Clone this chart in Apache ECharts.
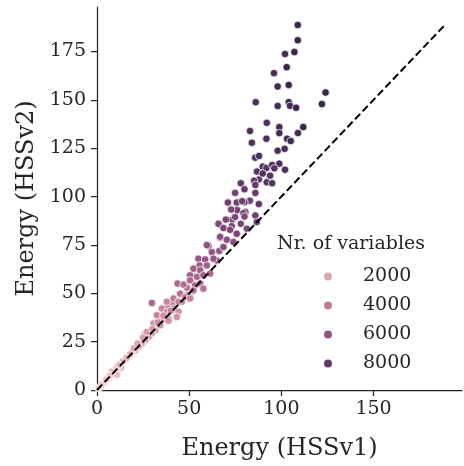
<!DOCTYPE html>
<html><head><meta charset="utf-8">
<script src="https://cdn.jsdelivr.net/npm/echarts@6/dist/echarts.min.js"></script>
<style>html,body{margin:0;padding:0;background:#fff}#c{width:464px;height:466px}</style>
</head><body><div id="c"></div>
<script>
// ---- data: [Energy HSSv1, Energy HSSv2, Nr. of variables] ----
const xTicks = [0, 50, 100, 150];
const yTicks = [0, 25, 50, 75, 100, 125, 150, 175];
const legendValues = [2000, 4000, 6000, 8000];
const diagonal = [[0, 0], [189, 189]];

const pointsHigh = [
  [108.9,188.7,9400],[108.9,180.8,9400],[107.1,174.7,9400],[102,173.7,9000],[102.9,166.9,9400],
  [96,163.8,9000],[98,156.9,9000],[104,157.7,9400],[124,153.8,9400],[86.1,148.8,8700],
  [98,146.8,9000],[104,148.8,9400],[104.7,146.9,9000],[108,145.9,9400],[122,147.8,9400],
  [92.1,138.1,8700],[98.9,135.9,9000],[111.9,135.9,9400],[83,133.9,8700],[98.9,132.8,9000],
  [109,132.8,9000],[91.9,129.9,8700],[103.1,129.9,9000],[105.1,128.7,9000],[84,127.8,8700],
  [98,123.7,8700],[101.8,124.7,8700],[85.8,120.1,8400],[87.9,121,8700]
];
const pointsUpperMid = [
  [89.9,115.5,8400],[91.9,114.8,8400],[95,116.3,8700],[98.9,117,8700],[96.2,114.6,8400],
  [102,113.9,8700],[86.8,112.9,8400],[89.9,111.9,8400],[93.9,110.8,8400],[87.8,108.8,8000],
  [85.2,108.2,8000],[92.1,107.4,8400],[95,106.9,8400],[85.9,106,8000],[78,106.9,8000],
  [80,103.8,8000],[74.9,101.9,7500],[85.9,101.9,8000],[82.9,97.9,7500],[87.8,96.1,8000],
  [75.8,96.9,7500],[80,97.1,7500],[76,93,7500],[80.5,92,7500],[85.9,90.2,7500],
  [78,85.9,7000],[73.3,88,7000],[71,96.9,7500],[78.7,97.6,7500],[72.8,93.3,7000],
  [79.4,91.4,7500],[74.9,89.4,7000],[80,89.7,7000],[65.9,85.9,7000],[69.9,88.1,7000],
  [73.1,84.7,7000],[68.6,83.7,7000],[81.3,83.4,7000],[86.7,86.8,7500]
];
const pointsMid = [
  [72.2,82.8,7000],[75.8,80.8,7000],[66.8,78.7,6500],[70.4,77.7,6500],[74,76.5,6500],
  [60.5,74.4,6500],[62.3,71.3,6000],[66.3,71.9,6000],[68.6,73.9,6500],[59.6,74.9,6500],
  [66.8,79.2,6500],[65,67,6000],[55,67.9,6000],[58.7,67.5,6000],[63.2,67.9,6000],
  [55.6,64.4,5500],[59.6,64.4,5500],[52.3,62.7,5500],[56,61.9,5500],[50.5,59.3,5500],
  [54.2,58.5,5000],[57.7,59.3,5500],[61.4,60.2,5000],[50.5,56.7,5000],[53.2,54.1,5000],
  [48.8,52.9,4500],[52.3,51.5,4500],[56,55,5000],[57.7,52.4,4500],[43.7,55,5000],
  [46.9,54.5,4500],[45.1,49.8,4500],[48.8,49,4000],[42.4,46.4,4000],[46,45.6,4000],
  [50.5,48.1,4000],[29.8,45,5000],[37.9,43.8,4000],[41.5,44.7,4000]
];
const pointsLow = [
  [37.9,45.6,3500],[41.5,47.3,4000],[44.2,45.6,3500],[47.8,48.1,3500],[50.5,47.3,3500],
  [35.2,42.1,3500],[37.9,40.4,3500],[41.5,42.1,3500],[44.2,40.4,3000],[43.3,37.8,3000],
  [32.5,38.7,3500],[35.2,36.1,3000],[38.8,37,3000],[38.8,35.8,3000],[30.7,34.4,3000],
  [34.3,33.5,3000],[31.6,30.9,2500],[29.8,29.2,2500],[28,27.5,2500],[26.2,29.2,3000],
  [26.2,25.8,2500],[24.4,24.1,2000],[22.5,22.4,2000],[20.7,20.6,2000],[19,19.8,1500],
  [17.1,17.2,1500],[15.3,15.5,1500],[12.6,12.9,1000],[10.8,11.2,1000],[9,8.6,1000],
  [6.3,6,500],[3.6,3.5,500],[0.9,0.9,100],[10.8,7.9,1000],[27,30,2500],
  [25,27,2500],[20,21.5,2000],[18,18.5,1500],[14,14.8,1500],[13,11.5,1000],
  [11,12,1000],[8,9.5,1000],[5,5.5,500],[2.5,2.8,500],[30,31.5,2500],
  [33,35,3000],[36,38.5,3000],[40,41,3500],[22,24,2000],[16,16.5,1500],
  [12,13,1000],[7,7.5,500]
];
const hueMin = 100, hueMax = 10000;

// seaborn default cubehelix colormap (light -> dark)
function cubehelix(t) {
  const light = 0.85, dark = 0.15;
  const x = light + (dark - light) * t;
  const a = 0.8 * x * (1 - x) / 2;
  const phi = 2 * Math.PI * (0.4 * x);
  const f = (p0, p1) => Math.max(0, Math.min(1, x + a * (p0 * Math.cos(phi) + p1 * Math.sin(phi))));
  const r = f(-0.14861, 1.78277), g = f(-0.29227, -0.90649), b = f(1.97294, 0);
  return 'rgb(' + Math.round(r * 255) + ',' + Math.round(g * 255) + ',' + Math.round(b * 255) + ')';
}
const stops = [];
for (let i = 0; i <= 20; i++) stops.push(cubehelix(i / 20));
const hueColor = v => cubehelix((v - hueMin) / (hueMax - hueMin));

const FONT = 'DejaVu Serif';
const INK = '#262626';
const allPoints = pointsHigh.concat(pointsUpperMid, pointsMid, pointsLow);

const series = [{
  type: 'scatter', name: 'points', data: allPoints,
  symbolSize: 7.5,
  itemStyle: { borderColor: '#ffffff', borderWidth: 0.7, opacity: 1 },
  emphasis: { disabled: true }, z: 2
}];
legendValues.forEach(v => series.push({
  type: 'scatter', name: String(v), data: [],
  itemStyle: { color: hueColor(v), opacity: 1 }
}));
series.push({
  type: 'line', name: 'diag', data: diagonal, symbol: 'none',
  lineStyle: { color: '#000', width: 2, type: [7.5, 3.5] }, z: 3, silent: true
});

const axisCommon = {
  type: 'value', min: 0, max: 198,
  splitLine: { show: false },
  axisLine: { show: true, lineStyle: { color: INK, width: 1.25 } },
  nameLocation: 'middle',
  nameTextStyle: { fontFamily: FONT, fontSize: 24, color: INK }
};

const chart = echarts.init(document.getElementById('c'), null, { renderer: 'canvas' });
chart.setOption({
  animation: false,
  backgroundColor: '#fff',
  grid: { left: 97, right: 2, top: 7, bottom: 74, containLabel: false },
  title: {
    text: 'Nr. of variables', left: 277, top: 235, padding: 0,
    textStyle: { fontFamily: FONT, fontSize: 19, fontWeight: 'normal', color: INK }
  },
  legend: {
    data: legendValues.map(String), orient: 'vertical',
    left: 324, top: 267, padding: 0, itemGap: 10,
    itemWidth: 8, itemHeight: 8, icon: 'circle',
    itemStyle: { opacity: 1 },
    textStyle: { fontFamily: FONT, fontSize: 19, color: INK, padding: [0, 0, 0, 26] },
    selectedMode: false
  },
  visualMap: {
    show: false, type: 'continuous', dimension: 2, seriesIndex: 0,
    min: hueMin, max: hueMax, inRange: { color: stops }
  },
  xAxis: Object.assign({}, axisCommon, {
    name: 'Energy (HSSv1)', nameGap: 47,
    axisTick: { show: true, customValues: xTicks, length: 6, lineStyle: { color: INK, width: 1.25 } },
    axisLabel: { customValues: xTicks, fontFamily: FONT, fontSize: 19, color: INK, margin: 10 }
  }),
  yAxis: Object.assign({}, axisCommon, {
    name: 'Energy (HSSv2)', nameGap: 56,
    axisTick: { show: true, customValues: yTicks, length: 6, lineStyle: { color: INK, width: 1.25 } },
    axisLabel: { customValues: yTicks, fontFamily: FONT, fontSize: 19, color: INK, margin: 11 }
  }),
  series: series
});
</script>
</body></html>
